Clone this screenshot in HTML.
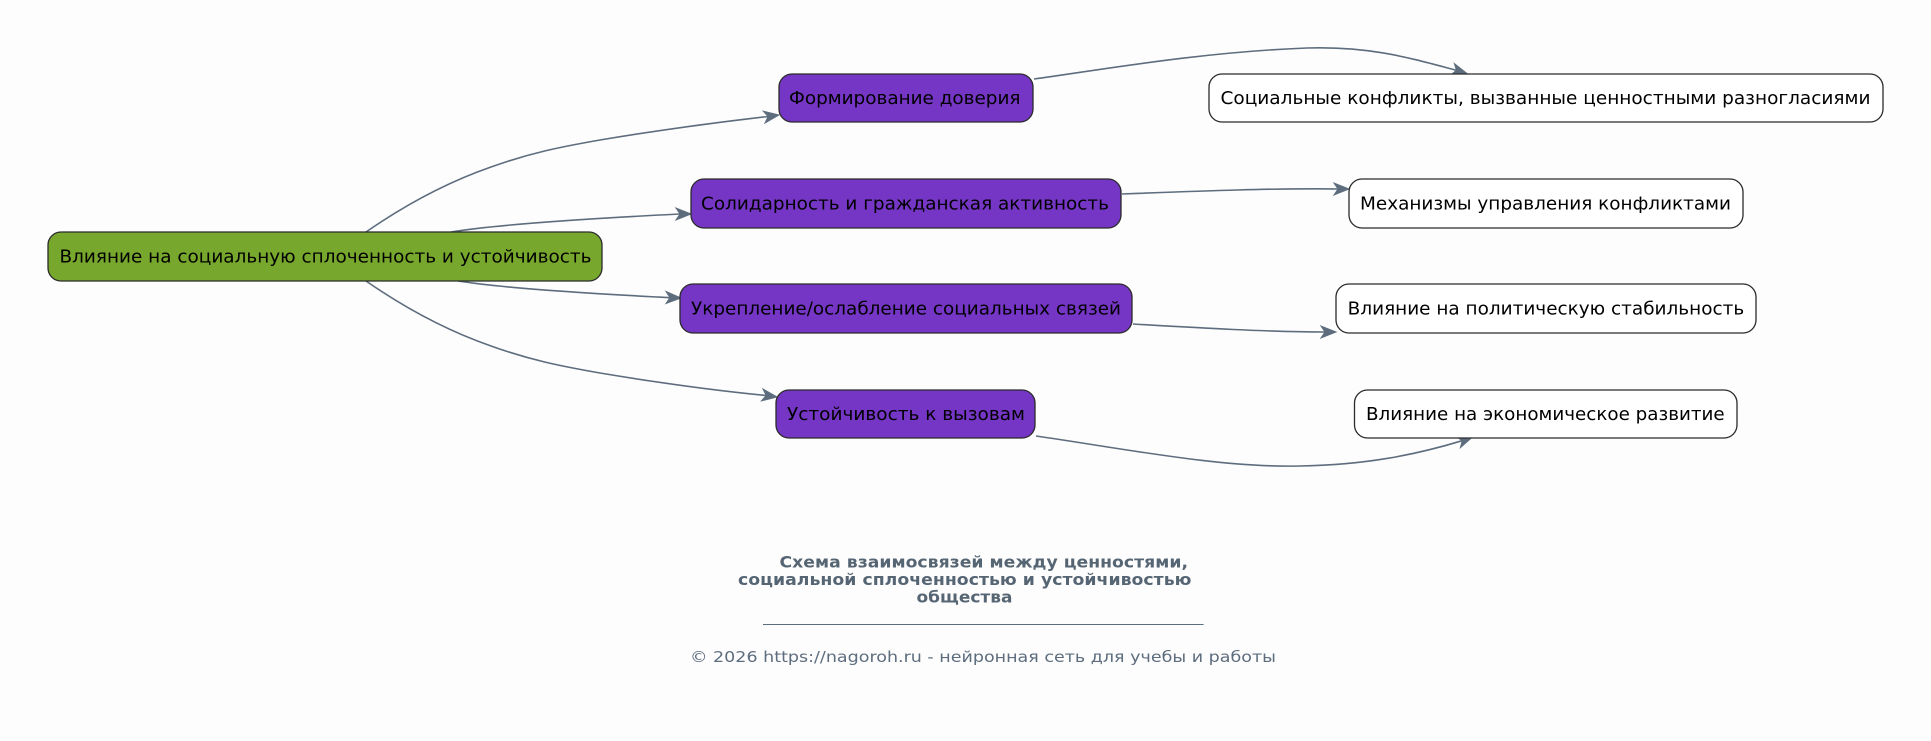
<!DOCTYPE html>
<html>
<head>
<meta charset="utf-8">
<style>
  html, body { margin:0; padding:0; background:#fdfdfd; }
  body { width:1931px; height:741px; overflow:hidden; }
  svg { display:block; }
  .n { font-family: "DejaVu Sans", "Liberation Sans", sans-serif; font-size:18px; fill:#000; }
  .t { font-family: "DejaVu Sans", "Liberation Sans", sans-serif; font-size:16px; font-weight:bold; fill:#566573; }
  .f { font-family: "DejaVu Sans", "Liberation Sans", sans-serif; font-size:15px; fill:#5d6d7e; }
  .e { fill:none; stroke:#5d6d7e; stroke-width:1.6; }
  .a { fill:#5d6d7e; stroke:#5d6d7e; stroke-width:1; stroke-linejoin:miter; }
</style>
</head>
<body>
<svg width="1931" height="741" viewBox="0 0 1931 741" xmlns="http://www.w3.org/2000/svg">
  <rect x="0" y="0" width="1931" height="741" fill="#fdfdfd"/>

  <!-- edges -->
  <path class="e" d="M366,232 C405,205 445,183 491,167 C530,153 560,147 600,140 C660,130 720,122 768,116.5"/>
  <polygon class="a" points="779,115 763.3,111.2 768.1,116.5 765,123"/>

  <path class="e" d="M451,232 C500,224 600,218 680,214"/>
  <polygon class="a" points="691,214 676,208 680,214 676,220"/>

  <path class="e" d="M458,281 C510,289 600,294 670,297.7"/>
  <polygon class="a" points="681,298 666,291.5 670,297.7 666,303.5"/>

  <path class="e" d="M366,281 C405,308 445,330 491,346 C530,360 560,366 600,373 C660,383 720,391 766,395.5"/>
  <polygon class="a" points="777,397 761.5,400.8 766.2,395.5 763,389"/>

  <path class="e" d="M1034,79 C1100,70 1200,52 1307,48 C1370,46 1410,58 1456.5,70.3"/>
  <polygon class="a" points="1467,73.5 1454.3,63.5 1456.5,70.3 1450.9,74.9"/>

  <path class="e" d="M1122,194 C1200,191 1280,188 1338,189"/>
  <polygon class="a" points="1349,189 1334,183 1338,189 1334,195"/>

  <path class="e" d="M1133,324 C1200,328 1270,332 1325,332"/>
  <polygon class="a" points="1336,332 1321,326 1325,332 1321,338"/>

  <path class="e" d="M1036,436 C1120,448 1220,468 1300,466 C1365,465 1415,455 1462.2,440.7"/>
  <polygon class="a" points="1472.5,437 1456.4,436.5 1462.2,440.7 1460.4,447.7"/>

  <!-- nodes -->
  <rect x="48" y="232" width="554" height="49" rx="13" ry="13" fill="#77a82d" stroke="#2b2b2b" stroke-width="1.3"/>
  <text class="n" x="59.5" y="262.5" textLength="532" lengthAdjust="spacingAndGlyphs">Влияние на социальную сплоченность и устойчивость</text>

  <rect x="779" y="74" width="254" height="48" rx="13" ry="13" fill="#7536c5" stroke="#2b2b2b" stroke-width="1.3"/>
  <text class="n" x="789" y="104" textLength="231.5" lengthAdjust="spacingAndGlyphs">Формирование доверия</text>

  <rect x="691" y="179" width="430" height="49" rx="13" ry="13" fill="#7536c5" stroke="#2b2b2b" stroke-width="1.3"/>
  <text class="n" x="701" y="209.5" textLength="408" lengthAdjust="spacingAndGlyphs">Солидарность и гражданская активность</text>

  <rect x="680" y="284" width="452" height="49" rx="13" ry="13" fill="#7536c5" stroke="#2b2b2b" stroke-width="1.3"/>
  <text class="n" x="691" y="314.5" textLength="430" lengthAdjust="spacingAndGlyphs">Укрепление/ослабление социальных связей</text>

  <rect x="776" y="390" width="259" height="48" rx="13" ry="13" fill="#7536c5" stroke="#2b2b2b" stroke-width="1.3"/>
  <text class="n" x="787" y="420" textLength="238" lengthAdjust="spacingAndGlyphs">Устойчивость к вызовам</text>

  <rect x="1209" y="74" width="674" height="48" rx="13" ry="13" fill="#ffffff" stroke="#2b2b2b" stroke-width="1.3"/>
  <text class="n" x="1220.5" y="104" textLength="650" lengthAdjust="spacingAndGlyphs">Социальные конфликты, вызванные ценностными разногласиями</text>

  <rect x="1349" y="179" width="394" height="49" rx="13" ry="13" fill="#ffffff" stroke="#2b2b2b" stroke-width="1.3"/>
  <text class="n" x="1360" y="209.5" textLength="371" lengthAdjust="spacingAndGlyphs">Механизмы управления конфликтами</text>

  <rect x="1336" y="284" width="420" height="49" rx="13" ry="13" fill="#ffffff" stroke="#2b2b2b" stroke-width="1.3"/>
  <text class="n" x="1347.7" y="314.5" textLength="396.5" lengthAdjust="spacingAndGlyphs">Влияние на политическую стабильность</text>

  <rect x="1354.5" y="390" width="382.5" height="48" rx="13" ry="13" fill="#ffffff" stroke="#2b2b2b" stroke-width="1.3"/>
  <text class="n" x="1366" y="420" textLength="358.7" lengthAdjust="spacingAndGlyphs">Влияние на экономическое развитие</text>

  <!-- title -->
  <text class="t" x="779.5" y="567.5" textLength="408.5" lengthAdjust="spacingAndGlyphs">Схема взаимосвязей между ценностями,</text>
  <text class="t" x="738" y="585" textLength="453.5" lengthAdjust="spacingAndGlyphs">социальной сплоченностью и устойчивостью</text>
  <text class="t" x="916.5" y="602.5" textLength="96" lengthAdjust="spacingAndGlyphs">общества</text>

  <line x1="763" y1="624.5" x2="1203.6" y2="624.5" stroke="#5d6d7e" stroke-width="1"/>

  <text class="f" x="690" y="662" textLength="586" lengthAdjust="spacingAndGlyphs">© 2026 https://nagoroh.ru - нейронная сеть для учебы и работы</text>
</svg>
</body>
</html>
